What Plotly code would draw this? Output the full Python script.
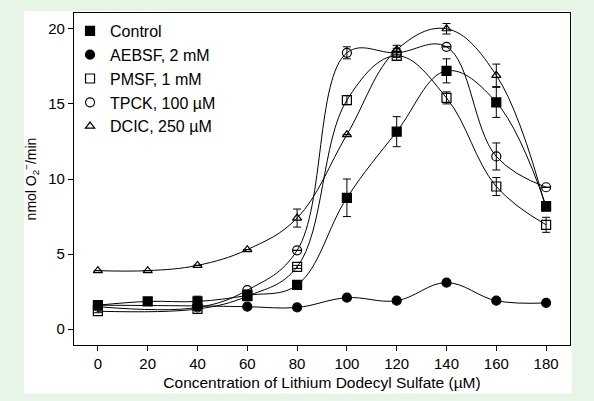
import plotly.graph_objects as go

# Data
names = ["Control", "AEBSF, 2 mM", "PMSF, 1 mM", "TPCK, 100 µM", "DCIC, 250 µM"]

x_control = [0, 20, 40, 60, 80, 100, 120, 140, 160, 180]
y_control = [1.6, 1.85, 1.85, 2.25, 2.95, 8.75, 13.15, 17.2, 15.1, 8.2]
e_control = [0.15, 0.1, 0.35, 0.2, 0.1, 1.25, 1.0, 0.8, 1.0, 0.3]

x_aebsf = [0, 40, 60, 80, 100, 120, 140, 160, 180]
y_aebsf = [1.6, 1.55, 1.5, 1.45, 2.1, 1.9, 3.1, 1.9, 1.75]
e_aebsf = [0, 0, 0, 0, 0, 0, 0, 0, 0]

x_pmsf = [0, 40, 60, 80, 100, 120, 140, 160, 180]
y_pmsf = [1.2, 1.35, 2.2, 4.15, 15.25, 18.2, 15.4, 9.5, 6.95]
e_pmsf = [0.1, 0.1, 0.1, 0.1, 0.3, 0.3, 0.4, 0.6, 0.5]

x_tpck = [0, 40, 60, 80, 100, 120, 140, 160, 180]
y_tpck = [1.5, 1.45, 2.6, 5.25, 18.4, 18.4, 18.8, 11.5, 9.45]
e_tpck = [0, 0, 0, 0, 0.4, 0.3, 0, 0.9, 0]

x_dcic = [0, 20, 40, 60, 80, 100, 120, 140, 160, 180]
y_dcic = [3.9, 3.9, 4.25, 5.3, 7.4, 12.95, 18.6, 20.0, 16.9, 8.0]
e_dcic = [0, 0, 0, 0, 0.6, 0, 0.3, 0.35, 0.75, 0]

x_ticks = [0, 20, 40, 60, 80, 100, 120, 140, 160, 180]
y_ticks = [0, 5, 10, 15, 20]

series = [
    (names[0], x_control, y_control, e_control, "square", 9),
    (names[1], x_aebsf, y_aebsf, e_aebsf, "circle", 9),
    (names[2], x_pmsf, y_pmsf, e_pmsf, "square-open", 9),
    (names[3], x_tpck, y_tpck, e_tpck, "circle-open", 9),
    (names[4], x_dcic, y_dcic, e_dcic, "triangle-up-open", 8),
]

fig = go.Figure()
for name, xs, ys, es, sym, sz in series:
    fig.add_trace(go.Scatter(
        x=xs, y=ys, mode="lines", showlegend=False, hoverinfo="skip",
        line=dict(color="black", width=1, shape="spline", smoothing=1.1),
    ))
for name, xs, ys, es, sym, sz in series:
    fig.add_trace(go.Scatter(
        x=xs, y=ys, mode="markers", name=name,
        marker=dict(symbol=sym, size=sz, color="black",
                    line=dict(color="black", width=1.2)),
        error_y=dict(type="data", array=es, visible=True,
                     color="black", thickness=1, width=4),
    ))

font = "Liberation Sans, Arial, sans-serif"
W, H = 594, 401
ml, mr, mt, mb = 74, 24, 12, 53
pw, ph = W - ml - mr, H - mt - mb

fig.add_shape(type="rect", xref="paper", yref="paper",
              x0=(24 - ml) / pw, x1=(572 - ml) / pw,
              y0=(H - mb - 397) / ph, y1=(H - mb - 10) / ph,
              fillcolor="white", line=dict(width=0), layer="below")

fig.update_layout(
    width=W, height=H,
    margin=dict(l=ml, r=mr, t=mt, b=mb),
    paper_bgcolor="#e7f5e7",
    plot_bgcolor="white",
    font=dict(family=font, size=15, color="black"),
    legend=dict(x=-0.008, y=0.997, xanchor="left", yanchor="top",
                bgcolor="rgba(0,0,0,0)", font=dict(size=16),
                tracegroupgap=0, itemsizing="trace"),
    xaxis=dict(range=[-9.6, 189.6], tickvals=x_ticks, ticks="outside",
               ticklen=5, tickcolor="black", showgrid=False, zeroline=False,
               showline=True, linecolor="black", linewidth=1.2, mirror=True,
               title=dict(text="Concentration of Lithium Dodecyl Sulfate (µM)",
                          standoff=6, font=dict(size=15.5))),
    yaxis=dict(range=[-1.05, 21.05], tickvals=y_ticks, ticks="outside",
               ticklen=5, tickcolor="black", showgrid=False, zeroline=False,
               showline=True, linecolor="black", linewidth=1.2, mirror=True,
               title=dict(text="nmol O<sub>2</sub><sup>−</sup>/min",
                          standoff=8, font=dict(size=14))),
)

fig.write_html("out.html")
